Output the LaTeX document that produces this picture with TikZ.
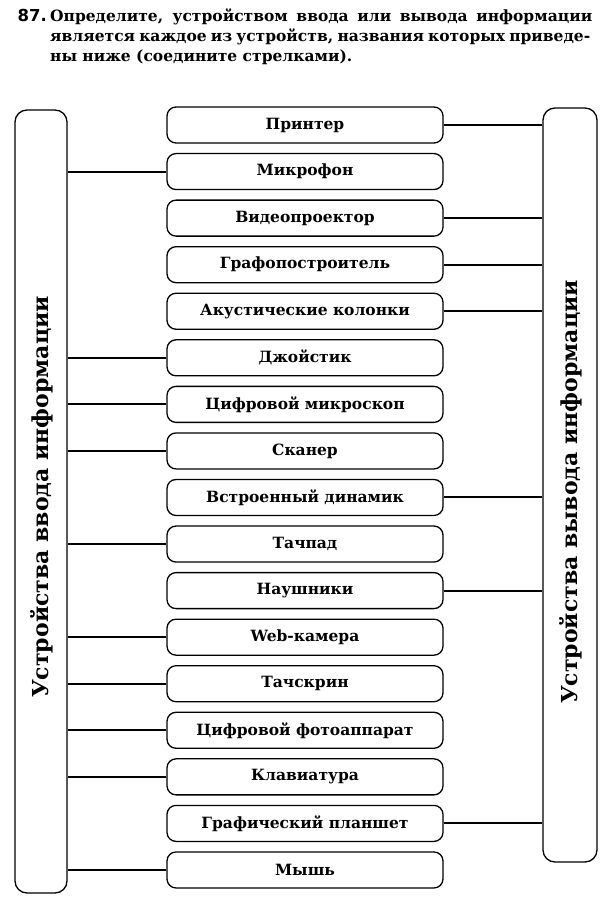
\documentclass[tikz,border=0pt]{standalone}
\usepackage{fontspec}
\setmainfont{DejaVu Serif}
\newfontfamily\numfont{DejaVu Sans}
\usetikzlibrary{positioning}
\newcommand{\taskfont}{\bfseries\fontsize{15.5}{18}\selectfont}
\newcommand{\sidefont}{\bfseries\fontsize{22}{25}\selectfont}
\tikzset{
  device/.style={draw, line width=1.3pt, rounded corners=9pt,
    minimum width=276pt, minimum height=36pt, inner sep=0pt,
    font=\bfseries\fontsize{15.5}{18}\selectfont},
  group/.style={draw, line width=1.3pt, rounded corners=12pt, inner sep=0pt},
  link/.style={line width=2pt},
}

\begin{document}
\begin{tikzpicture}[x=1pt, y=-1pt, node distance=9.26pt]
\useasboundingbox (0,0) rectangle (608,905);
% task text
\node[anchor=base east, inner sep=0pt, font=\taskfont] (TaskNum) at (47,21) {\numfont\fontsize{16.5}{18}\selectfont 87.};
\node[anchor=base west, inner sep=0pt, font=\taskfont] (TaskLineA) at (50,21)
  {\makebox[542pt][s]{Определите, устройством ввода или вывода информации}};
\node[anchor=base west, inner sep=0pt, font=\taskfont] (TaskLineB) at (50,41)
  {\makebox[540pt][s]{является каждое из устройств, названия которых приведе-}};
\node[anchor=base west, inner sep=0pt, font=\taskfont] (TaskLineC) at (50,61)
  {ны ниже (соедините стрелками).};
% side groups
\node[group, minimum width=52pt, minimum height=783pt] (InputBox) at (41,501.5) {};
\node[rotate=90, font=\sidefont] (InputLabel) at (42,497) {Устройства ввода информации};
\node[group, minimum width=54pt, minimum height=754pt] (OutputBox) at (570,485) {};
\node[rotate=90, font=\sidefont] (OutputLabel) at (571,492) {Устройства вывода информации};
% devices
\node[device] (Printer) at (305,125) {Принтер};
\node[device, below=of Printer] (Microphone) {Микрофон};
\node[device, below=of Microphone] (Projector) {Видеопроектор};
\node[device, below=of Projector] (Plotter) {Графопостроитель};
\node[device, below=of Plotter] (Speakers) {Акустические колонки};
\node[device, below=of Speakers] (Joystick) {Джойстик};
\node[device, below=of Joystick] (Microscope) {Цифровой микроскоп};
\node[device, below=of Microscope] (Scanner) {Сканер};
\node[device, below=of Scanner] (Speaker) {Встроенный динамик};
\node[device, below=of Speaker] (Touchpad) {Тачпад};
\node[device, below=of Touchpad] (Headphones) {Наушники};
\node[device, below=of Headphones] (Webcam) {Web-камера};
\node[device, below=of Webcam] (Touchscreen) {Тачскрин};
\node[device, below=of Touchscreen] (Camera) {Цифровой фотоаппарат};
\node[device, below=of Camera] (Keyboard) {Клавиатура};
\node[device, below=of Keyboard] (Tablet) {Графический планшет};
\node[device, below=of Tablet] (Mouse) {Мышь};
% input links
\draw[link] (Microphone.west) -- (Microphone.west -| InputBox.east);
\draw[link] (Joystick.west) -- (Joystick.west -| InputBox.east);
\draw[link] (Microscope.west) -- (Microscope.west -| InputBox.east);
\draw[link] (Scanner.west) -- (Scanner.west -| InputBox.east);
\draw[link] (Touchpad.west) -- (Touchpad.west -| InputBox.east);
\draw[link] (Webcam.west) -- (Webcam.west -| InputBox.east);
\draw[link] (Touchscreen.west) -- (Touchscreen.west -| InputBox.east);
\draw[link] (Camera.west) -- (Camera.west -| InputBox.east);
\draw[link] (Keyboard.west) -- (Keyboard.west -| InputBox.east);
\draw[link] (Mouse.west) -- (Mouse.west -| InputBox.east);
% output links
\draw[link] (Printer.east) -- (Printer.east -| OutputBox.west);
\draw[link] (Projector.east) -- (Projector.east -| OutputBox.west);
\draw[link] (Plotter.east) -- (Plotter.east -| OutputBox.west);
\draw[link] (Speakers.east) -- (Speakers.east -| OutputBox.west);
\draw[link] (Speaker.east) -- (Speaker.east -| OutputBox.west);
\draw[link] (Headphones.east) -- (Headphones.east -| OutputBox.west);
\draw[link] (Tablet.east) -- (Tablet.east -| OutputBox.west);
\end{tikzpicture}
\end{document}
